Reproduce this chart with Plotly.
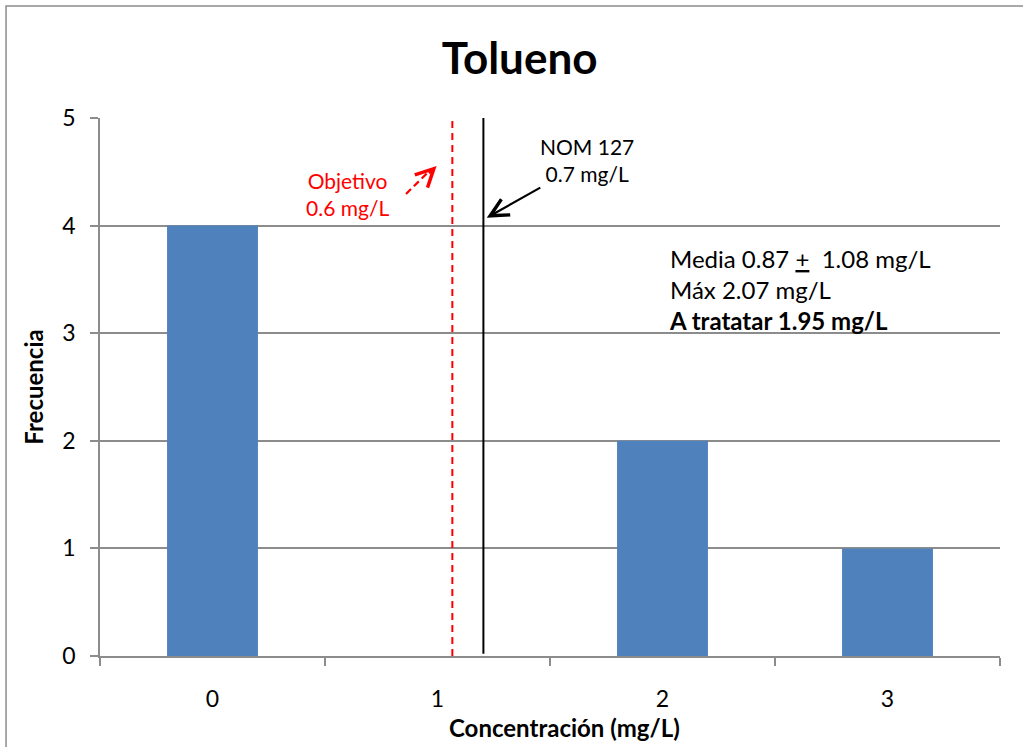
import plotly.graph_objects as go

# Histogram counts per concentration bin
categories = ["0", "1", "2", "3"]
frequencies = [4, 0, 2, 1]
y_ticks = [0, 1, 2, 3, 4, 5]

# Reference lines, positioned on the category axis
objetivo_pos = 1.066
nom_pos = 1.204

BAR_COLOR = "#4F81BD"
GRID = "#8C8C8C"
FONT = "Lato"

fig = go.Figure()
fig.add_trace(go.Bar(x=categories, y=frequencies, marker=dict(color=BAR_COLOR, line=dict(width=0)),
                     hoverinfo="x+y"))

fig.update_layout(
    width=1023, height=747,
    margin=dict(l=100, r=23, t=118, b=91),
    paper_bgcolor="white", plot_bgcolor="white",
    bargap=0.596,
    showlegend=False,
    font=dict(family=FONT, color="black"),
    title=dict(text="<b>Tolueno</b>", x=0.508, xanchor="center", y=0.922, yanchor="middle",
               font=dict(size=44, family=FONT, color="black")),
)

fig.update_xaxes(
    type="category", range=[-0.5, 3.5],
    tickson="boundaries", ticks="outside", ticklen=8, tickwidth=1.5, tickcolor=GRID,
    showline=True, linecolor=GRID, linewidth=1.5,
    showgrid=False, zeroline=False,
    tickfont=dict(size=23, family=FONT), ticklabelstandoff=22,
)
fig.update_yaxes(
    range=[0, 5], tickvals=y_ticks,
    ticks="outside", ticklen=8, tickwidth=1.5, tickcolor=GRID,
    showline=True, linecolor=GRID, linewidth=1.5,
    showgrid=True, gridcolor=GRID, gridwidth=1.5, zeroline=False,
    tickfont=dict(size=23, family=FONT), ticklabelstandoff=10,
    title=dict(text="<b>Frecuencia</b>", font=dict(size=24, family=FONT), standoff=12),
)

# x-axis title
fig.add_annotation(xref="paper", yref="paper", x=(564 - 100) / 900, y=-0.132, yanchor="middle",
                   text="<b>Concentración (mg/L)</b>", showarrow=False, font=dict(size=24, family=FONT))

# vertical reference lines
fig.add_shape(type="line", xref="x", yref="y", x0=objetivo_pos, x1=objetivo_pos, y0=0, y1=4.98,
              line=dict(color="#FF0000", width=2, dash="7px,5px"))
fig.add_shape(type="line", xref="x", yref="y", x0=nom_pos, x1=nom_pos, y0=0.02, y1=5,
              line=dict(color="black", width=2))

# outer chart frame
fig.add_shape(type="rect", xref="paper", yref="paper", x0=-0.1044, x1=1.1, y0=-0.4, y1=1.208,
              line=dict(color="#8C8C8C", width=1.5), layer="below")

# NOM 127 label with arrow
fig.add_annotation(x=1.664, y=4.61, xref="x", yref="y", text="NOM 127<br>0.7 mg/L", showarrow=False,
                   font=dict(size=21, family=FONT, color="black"), align="center")
fig.add_annotation(x=1.219, y=4.073, xref="x", yref="y", ax=55, ay=-31, text="",
                   font=dict(size=1), showarrow=True, arrowhead=5, arrowsize=1.6, arrowwidth=2.2,
                   arrowcolor="black")

# Objetivo label with dashed arrow
fig.add_annotation(x=0.598, y=4.29, xref="x", yref="y", text="Objetivo<br>0.6 mg/L", showarrow=False,
                   font=dict(size=21, family=FONT, color="#FF0000"), align="center")
fig.add_shape(type="line", xref="x", yref="y", x0=0.86, y0=4.294, x1=0.965, y1=4.51,
              line=dict(color="#FF0000", width=2.2, dash="7px,4px"))
fig.add_annotation(x=0.996, y=4.555, xref="x", yref="y", ax=-9, ay=9, text="",
                   font=dict(size=1), showarrow=True, arrowhead=5, arrowsize=1.6, arrowwidth=2.2,
                   arrowcolor="#FF0000")

# summary statistics
fig.add_annotation(x=2.02, y=3.405, xref="x", yref="y", xanchor="left", showarrow=False, align="left",
                   text="Media 0.87 <u>+</u>  1.08 mg/L<br>Máx 2.07 mg/L<br><b>A tratatar 1.95 mg/L</b>",
                   font=dict(size=24, family=FONT, color="black"))

fig.write_html("out.html")
